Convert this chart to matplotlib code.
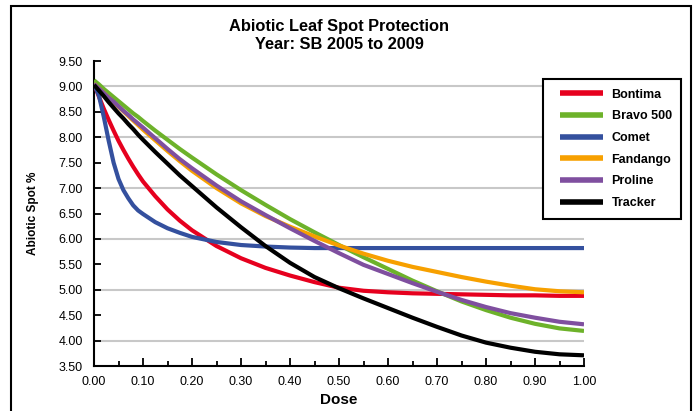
import matplotlib
matplotlib.use("Agg")
import matplotlib.pyplot as plt
from matplotlib.patches import Rectangle
from matplotlib.ticker import MultipleLocator, FormatStrFormatter

plt.rcParams['font.family'] = ['Liberation Sans', 'DejaVu Sans']

dose = [0, 0.01, 0.02, 0.03, 0.04, 0.05, 0.06, 0.07, 0.08, 0.09, 0.10,
        0.125, 0.15, 0.175, 0.20, 0.25, 0.30, 0.35, 0.40, 0.45, 0.50,
        0.55, 0.60, 0.65, 0.70, 0.75, 0.80, 0.85, 0.90, 0.95, 1.00]

bontima = [9.05, 8.80, 8.56, 8.34, 8.13, 7.93, 7.75, 7.58, 7.42, 7.27, 7.13,
           6.84, 6.58, 6.36, 6.17, 5.86, 5.62, 5.43, 5.28, 5.15, 5.04,
           4.98, 4.95, 4.93, 4.92, 4.91, 4.90, 4.89, 4.89, 4.88, 4.88]

bravo500 = [9.12, 9.04, 8.95, 8.87, 8.79, 8.71, 8.63, 8.55, 8.47, 8.40, 8.32,
            8.13, 7.95, 7.77, 7.60, 7.27, 6.96, 6.67, 6.39, 6.13, 5.88,
            5.64, 5.41, 5.18, 4.97, 4.77, 4.60, 4.45, 4.33, 4.24, 4.19]

comet = [9.05, 8.82, 8.40, 7.93, 7.50, 7.18, 6.96, 6.80, 6.66, 6.56, 6.49,
         6.33, 6.21, 6.12, 6.04, 5.94, 5.88, 5.85, 5.83, 5.82, 5.82,
         5.82, 5.82, 5.82, 5.82, 5.82, 5.82, 5.82, 5.82, 5.82, 5.82]

fandango = [9.05, 8.96, 8.87, 8.78, 8.69, 8.60, 8.51, 8.42, 8.33, 8.24, 8.15,
            7.94, 7.73, 7.53, 7.34, 7.00, 6.70, 6.45, 6.24, 6.05, 5.87,
            5.71, 5.57, 5.45, 5.35, 5.25, 5.16, 5.08, 5.01, 4.97, 4.95]

proline = [9.05, 8.96, 8.87, 8.78, 8.70, 8.61, 8.52, 8.44, 8.35, 8.27, 8.19,
           7.98, 7.77, 7.57, 7.39, 7.05, 6.74, 6.47, 6.21, 5.96, 5.72,
           5.49, 5.31, 5.13, 4.96, 4.80, 4.66, 4.54, 4.45, 4.37, 4.32]

tracker = [9.03, 8.92, 8.81, 8.69, 8.58, 8.47, 8.37, 8.26, 8.16, 8.05, 7.95,
           7.71, 7.48, 7.25, 7.04, 6.62, 6.23, 5.86, 5.53, 5.25, 5.03,
           4.83, 4.64, 4.45, 4.27, 4.10, 3.96, 3.86, 3.78, 3.73, 3.71]

series_names = ["Bontima", "Bravo 500", "Comet", "Fandango", "Proline", "Tracker"]
series_values = [bontima, bravo500, comet, fandango, proline, tracker]
series_colors = ["#e6001e", "#6db22a", "#34509e", "#f7a000", "#7f4f9f", "#000000"]

y_ticks = [3.5, 4.0, 4.5, 5.0, 5.5, 6.0, 6.5, 7.0, 7.5, 8.0, 8.5, 9.0, 9.5]
x_ticks = [0.0, 0.1, 0.2, 0.3, 0.4, 0.5, 0.6, 0.7, 0.8, 0.9, 1.0]
grid_values = [4.0, 5.0, 6.0, 7.0, 8.0, 9.0]

W, H = 696, 411
fig = plt.figure(figsize=(W / 100, H / 100), dpi=100)
ax = fig.add_axes([94 / W, (H - 366) / H, (584 - 94) / W, (366 - 61) / H])

# outer chart border
fig.patches.append(Rectangle((11 / W, -0.05), (691 - 11) / W, (H - 6) / H + 0.05,
                             transform=fig.transFigure, fill=False,
                             edgecolor="black", linewidth=1.5, zorder=0))

# gridlines at whole numbers
for g in grid_values:
    ax.axhline(g, color="#c8c8c8", linewidth=1.5, zorder=1)

for name, vals, col in zip(series_names, series_values, series_colors):
    ax.plot(dose, vals, color=col, linewidth=3.0, label=name,
            solid_capstyle="butt", zorder=3)

ax.set_xlim(0, 1.0)
ax.set_ylim(3.5, 9.5)
ax.set_yticks(y_ticks)
ax.set_xticks(x_ticks)
ax.xaxis.set_minor_locator(MultipleLocator(0.05))
ax.yaxis.set_major_formatter(FormatStrFormatter("%.2f"))
ax.xaxis.set_major_formatter(FormatStrFormatter("%.2f"))

for s in ["top", "right"]:
    ax.spines[s].set_visible(False)
for s in ["left", "bottom"]:
    ax.spines[s].set_linewidth(1.5)
    ax.spines[s].set_color("black")

ax.tick_params(axis="y", which="major", direction="in", length=5, width=1.3,
               pad=8, labelsize=9)
ax.tick_params(axis="x", which="major", direction="in", length=6, width=1.3,
               pad=7, labelsize=9)
ax.tick_params(axis="x", which="minor", direction="in", length=3.5, width=1.3)

ax.set_xlabel("Dose", fontsize=11, fontweight="bold", labelpad=4)
ax.set_ylabel("Abiotic Spot %", fontsize=8.5, fontweight="bold", labelpad=14)

fig.text(339 / W, 1 - 31.5 / H, "Abiotic Leaf Spot Protection", ha="center",
         va="baseline", fontsize=11.8, fontweight="bold")
fig.text(339 / W, 1 - 49 / H, "Year: SB 2005 to 2009", ha="center",
         va="baseline", fontsize=11.8, fontweight="bold")

# legend frame (drawn in the axes so it sits above the curves)
frame = Rectangle((543 / W, (H - 219) / H), 138 / W, 140 / H,
                  transform=fig.transFigure, facecolor="white",
                  edgecolor="black", linewidth=1.5, zorder=5, clip_on=False)
ax.add_patch(frame)

leg = ax.legend(loc="upper left",
                bbox_to_anchor=(560 / W, 1 - 88.5 / H),
                bbox_transform=fig.transFigure,
                frameon=False,
                prop={"size": 9, "weight": "bold"},
                handlelength=3.45, handletextpad=0.68, labelspacing=0.78,
                borderpad=0, borderaxespad=0)
leg.set_zorder(6)
for line in leg.get_lines():
    line.set_linewidth(4)
    line.set_solid_capstyle("butt")

fig.savefig("out.png", dpi=100)
